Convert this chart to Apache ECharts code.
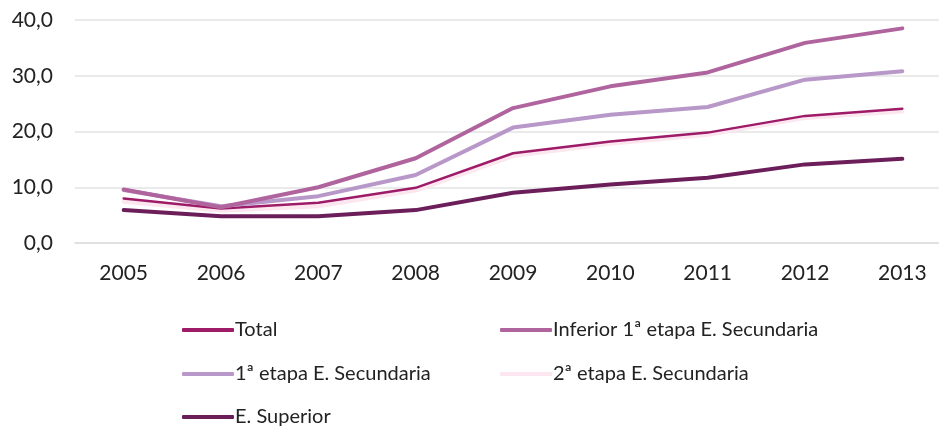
<!DOCTYPE html>
<html><head><meta charset="utf-8">
<script src="https://cdn.jsdelivr.net/npm/echarts@6/dist/echarts.min.js"></script>
<style>html,body{margin:0;padding:0;background:#fff}#c{width:939px;height:427px}</style>
</head><body><div id="c"></div>
<script>
const years = ['2005','2006','2007','2008','2009','2010','2011','2012','2013'];
const total = [8.0, 6.2, 7.2, 9.9, 16.1, 18.2, 19.8, 22.8, 24.1];
const inferior = [9.6, 6.4, 10.0, 15.2, 24.2, 28.1, 30.6, 35.9, 38.5];
const primeraEtapa = [9.5, 6.6, 8.4, 12.2, 20.7, 23.0, 24.4, 29.3, 30.8];
const segundaEtapa = [7.4, 5.8, 6.6, 9.4, 15.6, 17.8, 19.4, 22.4, 23.6];
const superior = [5.9, 4.8, 4.8, 5.9, 9.0, 10.5, 11.7, 14.1, 15.1];
const yTicks = [0, 10, 20, 30, 40];

const names = ['Total','Inferior 1ª etapa E. Secundaria','1ª etapa E. Secundaria','2ª etapa E. Secundaria','E. Superior'];
const colors = ['#9E1B68','#B0649E','#B897C9','#FCE6EF','#6B1E5A'];
const datas = [total, inferior, primeraEtapa, segundaEtapa, superior];
const widths = [2.5, 4, 4, 4, 4];
const order = [3, 0, 4, 2, 1];

const font = 'Lato, "Open Sans", sans-serif';
const series = names.map((n, i) => ({
  name: n, type: 'line', data: datas[i], symbol: 'none',
  lineStyle: { color: colors[i], width: widths[i], cap: 'round', join: 'round' },
  itemStyle: { color: colors[i] },
  z: 2 + order.indexOf(i)
}));
const legendPos = [[177, 315], [495, 315], [177, 359], [495, 359], [177, 402]];
const legends = names.map((n, i) => ({
  data: [n], left: legendPos[i][0], top: legendPos[i][1],
  itemWidth: 52, itemHeight: 4, itemGap: 0,
  icon: 'roundRect',
  textStyle: { fontFamily: font, fontSize: 20, color: '#222', padding: [0,0,0,-4] },
  selectedMode: false
}));
const chart = echarts.init(document.getElementById('c'), null, { renderer: 'canvas' });
chart.setOption({
  animation: false,
  grid: { left: 75, width: 876, top: 20, height: 223, containLabel: false, outerBoundsMode: 'none' },
  legend: legends,
  xAxis: {
    type: 'category', data: years, boundaryGap: true,
    axisLine: { show: true, lineStyle: { color: '#dddddd', width: 1.5 } },
    axisTick: { show: false },
    axisLabel: { fontFamily: font, fontSize: 21, color: '#222', margin: 20 }
  },
  yAxis: {
    type: 'value', min: yTicks[0], max: yTicks[yTicks.length-1], interval: 10,
    axisLine: { show: false }, axisTick: { show: false },
    splitLine: { lineStyle: { color: '#e3e3e3', width: 1.5 } },
    axisLabel: { fontFamily: font, fontSize: 21, color: '#222', margin: 22,
      formatter: v => v.toFixed(1).replace('.', ',') }
  },
  series: series
});
</script></body></html>
